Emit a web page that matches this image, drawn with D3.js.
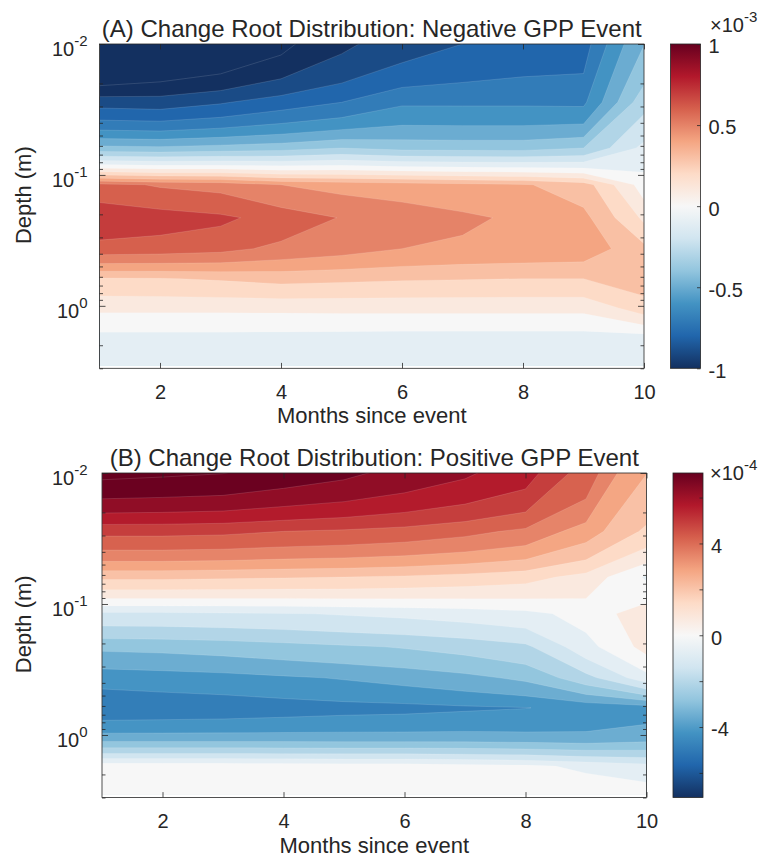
<!DOCTYPE html>
<html lang="en">
<head>
<meta charset="UTF-8">
<title>Change Root Distribution</title>
<script src="https://cdn.jsdelivr.net/npm/d3@7"></script>
<style>
  body { margin: 0; background: #fff; }
  text { font-family: "Liberation Sans", Arial, Helvetica, sans-serif; fill: #262626; }
</style>
</head>
<body>
<script>
// grid: months since event (columns) x soil node depth in m (rows)
const months = [1, 2, 3, 4, 5, 6, 7, 8, 9, 10];
const depths = [0.0071, 0.0279, 0.0623, 0.1189, 0.2122, 0.3661, 0.6198, 1.0380, 1.7276, 2.8646];

// (A) negative GPP event, units of 1e-3, one row per depth
const negGPP = [
  [-1.36, -1.27, -1.22, -1.13, -1.01, -0.94, -0.88, -0.84, -0.82, -0.48],
  [-0.89, -0.90, -0.86, -0.80, -0.75, -0.665,-0.665,-0.665,-0.67, -0.28],
  [-0.42, -0.43, -0.41, -0.39, -0.35, -0.38, -0.385,-0.385,-0.35, -0.12],
  [ 0.58,  0.54,  0.52,  0.45,  0.42,  0.40,  0.38,  0.36,  0.30,  0.00],
  [ 0.73,  0.70,  0.67,  0.61,  0.545, 0.51,  0.47,  0.43,  0.38,  0.13],
  [ 0.61,  0.60,  0.58,  0.525, 0.49,  0.45,  0.43,  0.42,  0.41,  0.28],
  [ 0.24,  0.245, 0.26,  0.28,  0.27,  0.26,  0.255, 0.25,  0.25,  0.30],
  [ 0.07,  0.07,  0.07,  0.072, 0.074, 0.075, 0.075, 0.075, 0.075, 0.205],
  [-0.08, -0.08, -0.08, -0.082,-0.085,-0.088,-0.09, -0.09, -0.09, -0.088],
  [-0.09, -0.09, -0.09, -0.09, -0.09, -0.09, -0.09, -0.09, -0.09, -0.09]
];

// (B) positive GPP event, units of 1e-4
const posGPP = [
  [ 8.0,  7.9,  7.8,  7.5,  7.2,  6.8,  6.4,  5.9,  4.6,  2.6],
  [ 4.75, 4.75, 4.7,  4.55, 4.45, 4.3,  4.05, 3.7,  2.8,  1.6],
  [ 1.9,  1.9,  1.85, 1.8,  1.75, 1.65, 1.5,  1.3,  0.8, -0.45],
  [-1.2, -1.2, -1.15,-1.1, -1.0, -0.9, -0.75,-0.55,-0.1,  0.8],
  [-3.0, -2.95,-2.85,-2.7, -2.55,-2.4, -2.2, -1.9, -0.6,  0.6],
  [-4.3, -4.2, -4.1, -3.95,-3.8, -3.6, -3.35,-3.0, -2.0, -0.6],
  [-5.1, -5.05,-5.0, -4.9, -4.8, -4.75,-4.65,-4.57,-4.35,-4.2],
  [-3.6, -3.6, -3.6, -3.6, -3.6, -3.6, -3.6, -3.65,-3.7, -3.5],
  [ 0.1,  0.1,  0.1,  0.05, 0.0,  0.0, -0.1, -0.2, -0.5, -0.8],
  [ 0.25, 0.25, 0.25, 0.25, 0.25, 0.25, 0.25, 0.25, 0.25, 0.1]
];

const xTicks = [2, 4, 6, 8, 10];
const yTicks = [0.01, 0.1, 1];
const yTickExp = ["-2", "-1", "0"];
const yMinor = [0.02,0.03,0.04,0.05,0.06,0.07,0.08,0.09,0.2,0.3,0.4,0.5,0.6,0.7,0.8,0.9,2,3];

// RdBu stops from -1 to 1 of the colour range
const cmapStops = ["#133060","#2166ac","#4393c3","#92c5de","#d1e5f0","#f7f7f7",
                   "#fddbc7","#f4a582","#d6604d","#b2182b","#67001f"];

// contour bands are centred on multiples of `step`, band k runs from (k-0.5)*step to (k+0.5)*step
const panels = [
  { title: "(A) Change Root Distribution: Negative GPP Event", values: negGPP,
    cmax: 1, step: 0.1, kMin: -11, kMax: 7, exp: "-3",
    cbTicks: [-1, -0.5, 0, 0.5, 1], cbLabels: [-1, -0.5, 0, 0.5, 1],
    left: 99.5, right: 644, top: 44, bottom: 368.3, cbLeft: 670.5, cbRight: 700.5,
    titleY: 37, expY: 31.5 },
  { title: "(B) Change Root Distribution: Positive GPP Event", values: posGPP,
    cmax: 7.07, step: 0.7, kMin: -8, kMax: 11, exp: "-4",
    cbTicks: [-6, -4, -2, 0, 2, 4, 6], cbLabels: [-4, 0, 4],
    left: 102, right: 646.5, top: 473, bottom: 797.5, cbLeft: 673, cbRight: 703,
    titleY: 466, expY: 479.5 }
];

const svg = d3.select("body").append("svg")
  .attr("width", 771).attr("height", 857);

const cmap = d3.scaleLinear()
  .domain(d3.range(cmapStops.length).map(i => -1 + 2 * i / (cmapStops.length - 1)))
  .range(cmapStops)
  .clamp(true);

function lerp(arr, i) {
  const i0 = Math.min(Math.floor(i), arr.length - 2);
  return arr[i0] + (i - i0) * (arr[i0 + 1] - arr[i0]);
}

panels.forEach((p, pi) => {
  const x = d3.scaleLinear().domain([1, 10]).range([p.left, p.right]);
  const y = d3.scaleLog().domain([0.01, 3]).range([p.top, p.bottom]);
  const color = v => cmap(v / p.cmax);
  const nx = months.length, ny = depths.length;
  const flat = p.values.flat();
  const bands = d3.range(p.kMin, p.kMax + 1);

  const toPx = ([cx, cy]) => {
    const ix = Math.max(0, Math.min(nx - 1, cx - 0.5));
    const iy = Math.max(0, Math.min(ny - 1, cy - 0.5));
    return [x(lerp(months, ix)), y(lerp(depths, iy))];
  };
  const pathOf = mp => mp.coordinates.map(poly => poly.map(ring =>
    "M" + ring.map(pt => toPx(pt).map(v => v.toFixed(2)).join(",")).join("L") + "Z").join("")).join("");

  const g = svg.append("g");
  const clipId = "clip" + pi;
  svg.append("clipPath").attr("id", clipId).append("rect")
    .attr("x", p.left).attr("y", p.top)
    .attr("width", p.right - p.left).attr("height", p.bottom - p.top);

  const fills = g.append("g").attr("clip-path", `url(#${clipId})`);
  // lowest band covers the whole data area, the others are painted on top
  fills.append("rect")
    .attr("x", p.left).attr("y", p.top)
    .attr("width", p.right - p.left).attr("height", y(depths[ny - 1]) - p.top)
    .attr("fill", color(bands[0] * p.step));
  const bounds = bands.slice(1).map(k => (k - 0.5) * p.step);
  const contours = d3.contours().size([nx, ny]).thresholds(bounds)(flat);
  fills.selectAll("path").data(contours).join("path")
    .attr("d", pathOf)
    .attr("fill", (d, i) => color(bands[i + 1] * p.step))
    .attr("stroke", "rgba(255,255,255,0.22)")
    .attr("stroke-width", 0.6);

  // axes, ticks pointing inward on all four sides
  const axisStyle = sel => {
    sel.select(".domain").remove();
    sel.selectAll("line").attr("stroke", "#262626").attr("stroke-width", 0.8);
    sel.selectAll("text").style("font-size", "20px").attr("fill", "#262626");
  };
  g.append("g").attr("transform", `translate(0,${p.bottom})`)
    .call(d3.axisBottom(x).tickValues(xTicks).tickSize(-5.4).tickPadding(16.5).tickFormat(d3.format("d")))
    .call(axisStyle);
  g.append("g").attr("transform", `translate(0,${p.top})`)
    .call(d3.axisTop(x).tickValues(xTicks).tickSize(-5.4).tickFormat(""))
    .call(axisStyle);
  [[d3.axisLeft, p.left], [d3.axisRight, p.right]].forEach(([ax, pos]) => {
    g.append("g").attr("transform", `translate(${pos},0)`)
      .call(ax(y).tickValues(yTicks).tickSize(-6).tickFormat(""))
      .call(axisStyle);
    g.append("g").attr("transform", `translate(${pos},0)`)
      .call(ax(y).tickValues(yMinor).tickSize(-3.5).tickFormat(""))
      .call(axisStyle);
  });
  g.append("rect")
    .attr("x", p.left).attr("y", p.top)
    .attr("width", p.right - p.left).attr("height", p.bottom - p.top)
    .attr("fill", "none").attr("stroke", "#262626").attr("stroke-width", 0.8);

  // log tick labels as 10^n
  yTicks.forEach((t, i) => {
    const tx = g.append("text").attr("x", 87.5).attr("y", y(t) + 12)
      .attr("text-anchor", "end").style("font-size", "20px");
    tx.append("tspan").text("10");
    tx.append("tspan").attr("dy", -10).style("font-size", "15px").text(yTickExp[i]);
  });

  g.append("text")
    .attr("transform", `translate(31,${(p.top + p.bottom) / 2 - 11}) rotate(-90)`)
    .attr("text-anchor", "middle").style("font-size", "22px")
    .text("Depth (m)");
  g.append("text")
    .attr("x", (p.left + p.right) / 2).attr("y", p.bottom + 55)
    .attr("text-anchor", "middle").style("font-size", "22px")
    .text("Months since event");
  g.append("text")
    .attr("x", (p.left + p.right) / 2).attr("y", p.titleY)
    .attr("text-anchor", "middle").style("font-size", "24px").attr("fill", "#000")
    .text(p.title);

  // colorbar
  const cy = d3.scaleLinear().domain([-p.cmax, p.cmax]).range([p.bottom, p.top]);
  const gradId = "grad" + pi;
  const grad = svg.append("defs").append("linearGradient").attr("id", gradId)
    .attr("x1", 0).attr("y1", 1).attr("x2", 0).attr("y2", 0);
  cmapStops.forEach((c, i) => grad.append("stop")
    .attr("offset", i / (cmapStops.length - 1)).attr("stop-color", c));
  g.append("rect")
    .attr("x", p.cbLeft).attr("y", p.top)
    .attr("width", p.cbRight - p.cbLeft).attr("height", p.bottom - p.top)
    .attr("fill", `url(#${gradId})`).attr("stroke", "#262626").attr("stroke-width", 0.8);
  g.append("g").attr("transform", `translate(${p.cbRight},0)`)
    .call(d3.axisRight(cy).tickValues(p.cbTicks).tickSize(-3.5).tickFormat(""))
    .call(axisStyle);
  p.cbLabels.forEach(v => {
    g.append("text").attr("x", p.cbRight + 8).attr("y", cy(v) + 9.4)
      .style("font-size", "20px").text(v);
  });
  const ex = g.append("text").attr("x", 710).attr("y", p.expY).style("font-size", "20px");
  ex.append("tspan").text("\u00d710");
  ex.append("tspan").attr("dy", -10).style("font-size", "15px").text(p.exp);
});
</script>
</body>
</html>
